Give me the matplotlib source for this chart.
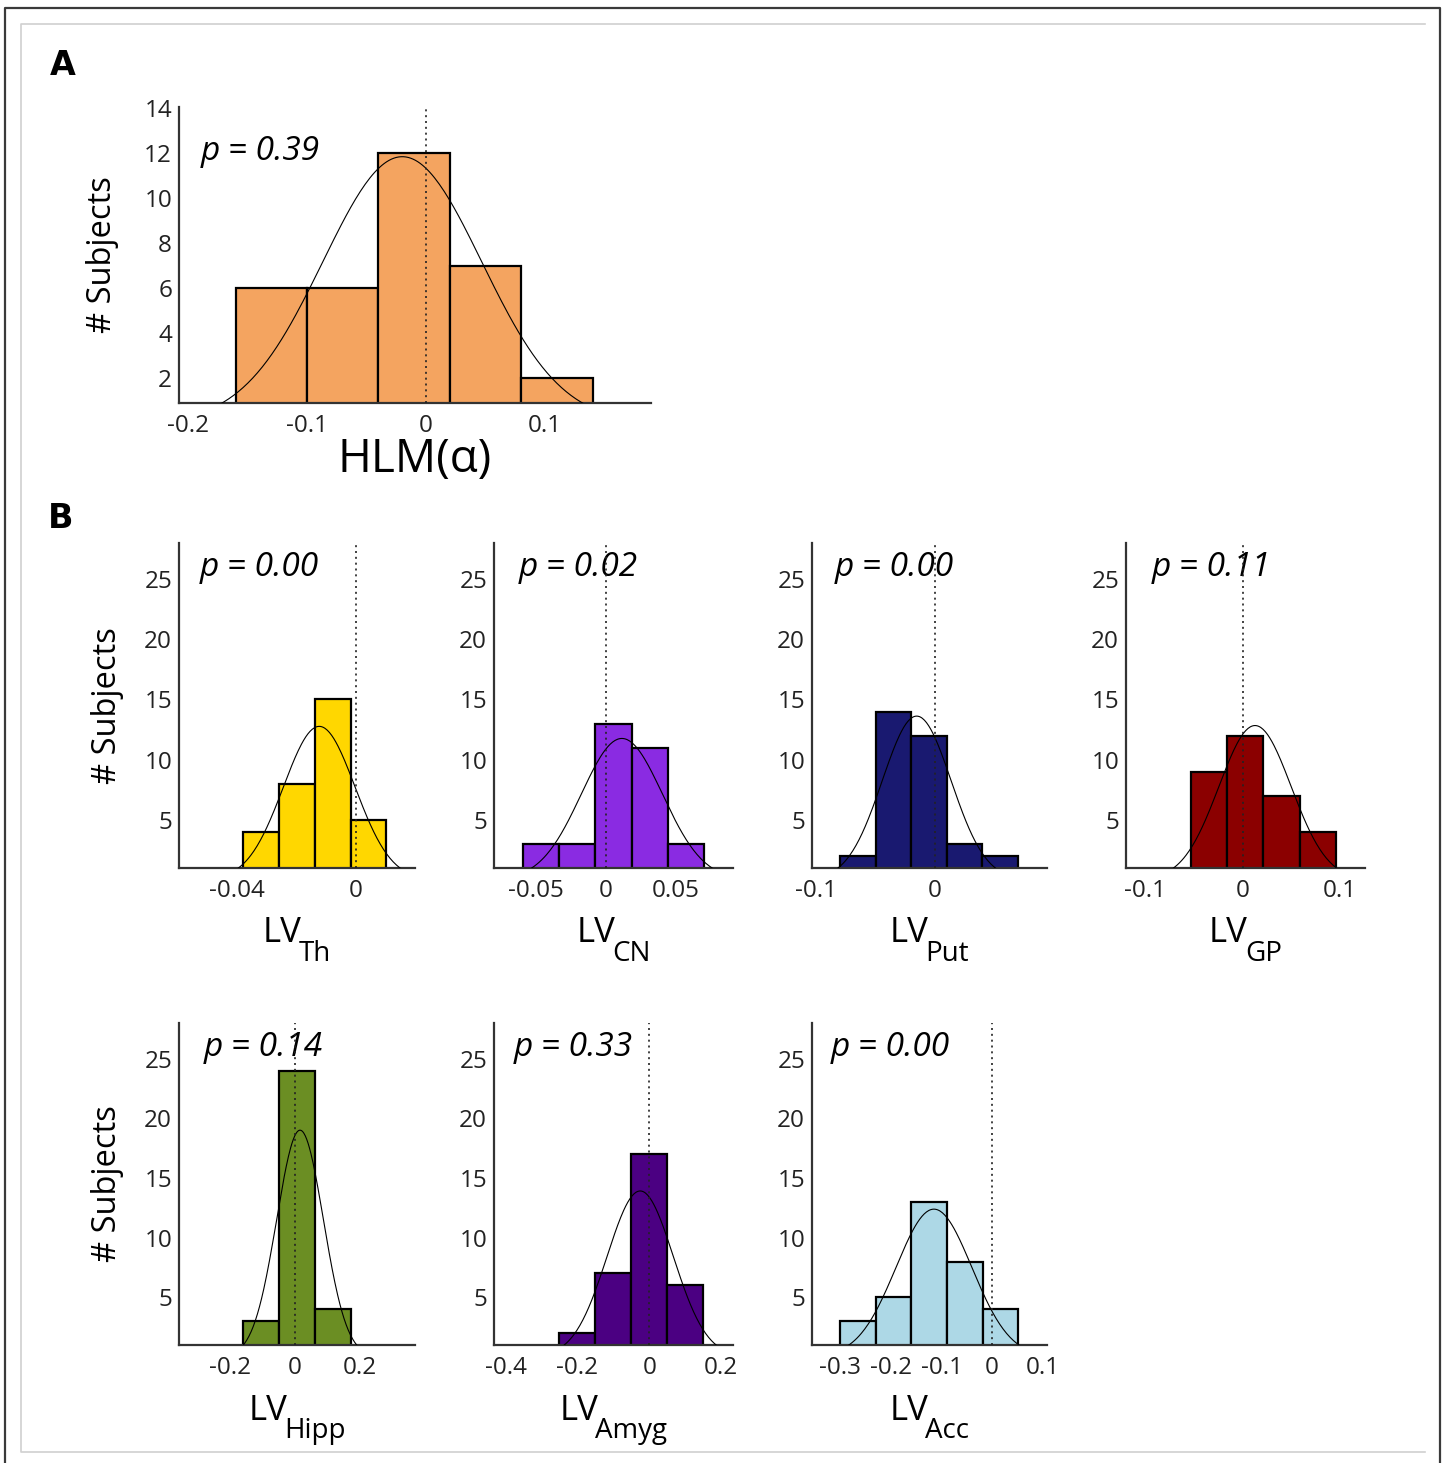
import numpy as np
import matplotlib.pyplot as plt
from matplotlib.lines import Line2D
from matplotlib.transforms import offset_copy

plt.rcParams['font.family'] = ['Open Sans', 'DejaVu Sans']

W, H = 1445, 1463

# ---- data ----
# panel A: HLM(alpha)
hlm_edges = [-0.16, -0.10, -0.04, 0.02, 0.08, 0.14]
hlm_counts = [6, 6, 12, 7, 2]
hlm_fit = (-0.02, 0.0667)          # mean, sd of the fitted normal
hlm_p = 'p = 0.39'

# panel B: LV per region
th_edges = [-0.0378, -0.0258, -0.0138, -0.0018, 0.0102]
th_counts = [4, 8, 15, 5]
th_fit = (-0.0123, 0.0120)

cn_edges = [-0.0598, -0.0338, -0.0078, 0.0182, 0.0442, 0.0702]
cn_counts = [3, 3, 13, 11, 3]
cn_fit = (0.0113, 0.0291)

put_edges = [-0.08, -0.05, -0.02, 0.01, 0.04, 0.07]
put_counts = [2, 14, 12, 3, 2]
put_fit = (-0.0154, 0.0290)

gp_edges = [-0.0532, -0.0159, 0.0214, 0.0587, 0.096]
gp_counts = [9, 12, 7, 4]
gp_fit = (0.0127, 0.0371)

hipp_edges = [-0.16, -0.049, 0.062, 0.173]
hipp_counts = [3, 24, 4]
hipp_fit = (0.0155, 0.0722)

amyg_edges = [-0.251, -0.1505, -0.05, 0.0505, 0.151]
amyg_counts = [2, 7, 17, 6]
amyg_fit = (-0.0251, 0.0922)

acc_edges = [-0.3005, -0.23, -0.1595, -0.089, -0.0185, 0.052]
acc_counts = [3, 5, 13, 8, 4]
acc_fit = (-0.115, 0.0749)

regions = ['Th', 'CN', 'Put', 'GP', 'Hipp', 'Amyg', 'Acc']
p_values = ['p = 0.00', 'p = 0.02', 'p = 0.00', 'p = 0.11', 'p = 0.14', 'p = 0.33', 'p = 0.00']
colors = ['#FFD700', '#8A2BE2', '#191970', '#8B0000', '#6B8E23', '#4B0082', '#ADD8E6']
edges_all = [th_edges, cn_edges, put_edges, gp_edges, hipp_edges, amyg_edges, acc_edges]
counts_all = [th_counts, cn_counts, put_counts, gp_counts, hipp_counts, amyg_counts, acc_counts]
fits_all = [th_fit, cn_fit, put_fit, gp_fit, hipp_fit, amyg_fit, acc_fit]
xlims = [(-0.0593, 0.0198), (-0.0803, 0.0909), (-0.1036, 0.0944), (-0.12, 0.1258),
         (-0.3587, 0.371), (-0.4324, 0.2335), (-0.356, 0.1085)]
xticks_all = [[-0.04, 0], [-0.05, 0, 0.05], [-0.1, 0], [-0.1, 0, 0.1],
              [-0.2, 0, 0.2], [-0.4, -0.2, 0, 0.2], [-0.3, -0.2, -0.1, 0, 0.1]]
p_x = [0.089, 0.105, 0.095, 0.107, 0.106, 0.084, 0.080]

# axes boxes in pixels: left, top, right, bottom
boxes = [(179, 543, 415, 868), (494, 543, 733, 868), (812, 543, 1047, 868), (1126, 543, 1365, 868),
         (179, 1023, 415, 1345), (494, 1023, 733, 1345), (812, 1023, 1047, 1345)]

TICK_FS = 17.5


def rect(l, t, r, b):
    return [l / W, 1 - b / H, (r - l) / W, (b - t) / H]


def fmt(v):
    return '0' if v == 0 else ('%g' % v)


def hist_panel(ax, edges, counts, fit, color, xlim, xticks, ylim, yticks):
    edges = np.array(edges)
    widths = np.diff(edges)
    ax.bar(edges[:-1], counts, width=widths, align='edge', color=color,
           edgecolor='black', linewidth=1.6, zorder=2)
    # normal fit scaled like histfit: n * binwidth * pdf
    mu, sd = fit
    n = sum(counts)
    xs = np.linspace(mu - 3 * sd, mu + 3 * sd, 200)
    ys = n * widths.mean() * np.exp(-0.5 * ((xs - mu) / sd) ** 2) / (sd * np.sqrt(2 * np.pi))
    ax.plot(xs, ys, color='black', linewidth=0.8, zorder=3)
    ax.axvline(0, color='#222222', linestyle=(0, (1.2, 2.3)), linewidth=1.2, zorder=4)
    ax.set_xlim(*xlim)
    ax.set_ylim(*ylim)
    ax.set_xticks(xticks)
    ax.set_xticklabels([fmt(v) for v in xticks])
    ax.set_yticks(yticks)
    ax.set_yticklabels([str(v) for v in yticks])
    for s in ['top', 'right']:
        ax.spines[s].set_visible(False)
    for s in ['left', 'bottom']:
        ax.spines[s].set_color('#333333')
        ax.spines[s].set_linewidth(1.6)
    ax.tick_params(axis='both', length=0, labelsize=TICK_FS, labelcolor='#222222')
    ax.tick_params(axis='x', pad=8)
    ax.tick_params(axis='y', pad=5)
    ax.set_facecolor('none')


fig = plt.figure(figsize=(W / 100, H / 100), dpi=100)
renderer = fig.canvas.get_renderer()


def sub_label(ax, main, sub, y_frac, drop=18.5, gap=-3):
    # "LV" with a lowered subscript, the pair centred under the axes
    t1 = ax.text(0.5, y_frac, main, transform=ax.transAxes, fontsize=25, ha='left', va='baseline')
    t2 = ax.text(0.5, y_frac, sub, transform=ax.transAxes, fontsize=20, ha='left', va='baseline')
    w1 = t1.get_window_extent(renderer).width
    w2 = t2.get_window_extent(renderer).width
    x0 = -(w1 + w2 + gap) / 2
    t1.set_transform(offset_copy(ax.transAxes, fig, x=x0, y=0, units='dots'))
    t2.set_transform(offset_copy(ax.transAxes, fig, x=x0 + w1 + gap, y=-drop, units='dots'))


# frame lines around the figure
fig.add_artist(Line2D([5 / W, 5 / W, 1440 / W, 1440 / W], [0, 1 - 8 / H, 1 - 8 / H, 0],
                      color='#3a3a3a', linewidth=1.6))
fig.add_artist(Line2D([1425 / W, 21 / W, 21 / W, 1425 / W],
                      [1 - 24 / H, 1 - 24 / H, 1 - 1452 / H, 1 - 1452 / H],
                      color='#d0d0d0', linewidth=1.2))

# panel A
axA = fig.add_axes(rect(179, 107, 651, 403))
hist_panel(axA, hlm_edges, hlm_counts, hlm_fit, '#F4A460', (-0.2076, 0.189),
           [-0.2, -0.1, 0, 0.1], (0.9, 14.05), [2, 4, 6, 8, 10, 12, 14])
axA.text(0.045, 0.82, hlm_p, transform=axA.transAxes, fontsize=24, style='italic',
         ha='left', va='baseline')
axA.set_xlabel('HLM(α)', fontsize=33)
axA.xaxis.set_label_coords(0.5, -0.115)
axA.set_ylabel('# Subjects', fontsize=23.5)
axA.yaxis.set_label_coords(-0.127, 0.5)

# panel B
for i, reg in enumerate(regions):
    ax = fig.add_axes(rect(*boxes[i]))
    hist_panel(ax, edges_all[i], counts_all[i], fits_all[i], colors[i], xlims[i],
               xticks_all[i], (1, 28), [5, 10, 15, 20, 25])
    ax.text(p_x[i], 0.897, p_values[i], transform=ax.transAxes, fontsize=24,
            style='italic', ha='left', va='baseline')
    sub_label(ax, 'LV', reg, -0.228 if i < 4 else -0.232)
    if i in (0, 4):
        ax.set_ylabel('# Subjects', fontsize=23.5)
        ax.yaxis.set_label_coords(-0.233, 0.5)

fig.text(50 / W, 1 - 75 / H, 'A', fontsize=24, fontweight='bold', family='DejaVu Sans')
fig.text(48 / W, 1 - 528 / H, 'B', fontsize=24, fontweight='bold', family='DejaVu Sans')

fig.savefig('out.png', dpi=100)
